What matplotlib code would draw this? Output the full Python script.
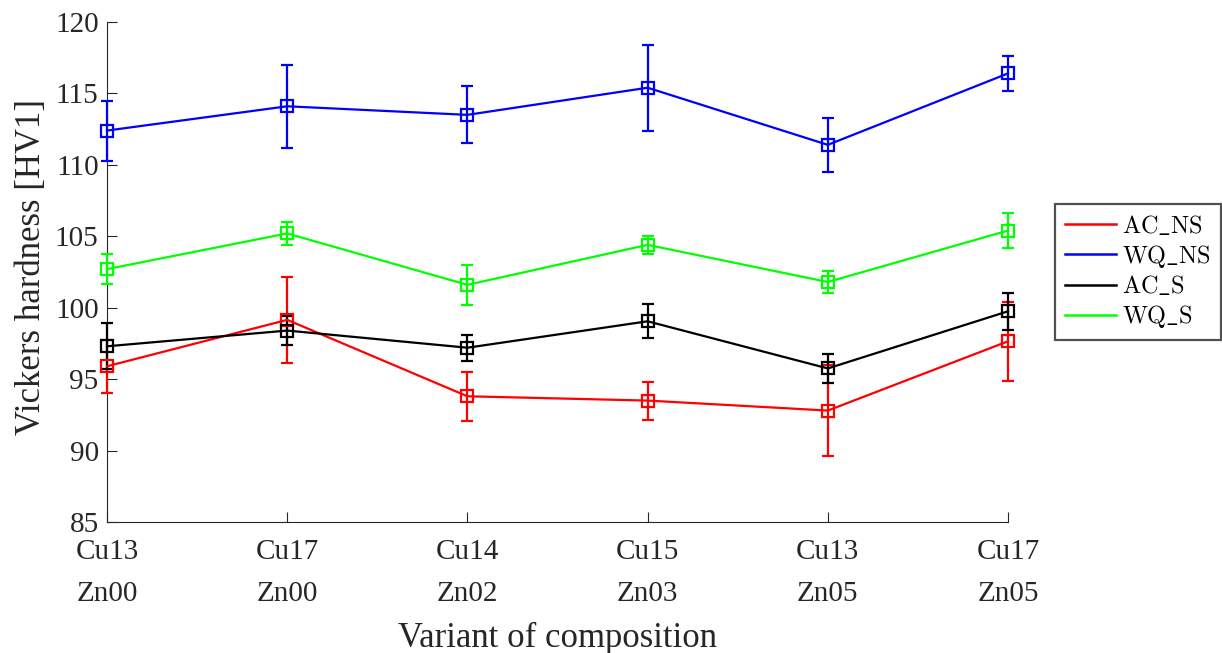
import numpy as np
import matplotlib
matplotlib.use('Agg')
import matplotlib.pyplot as plt
from matplotlib.lines import Line2D

# composition variants
labels = ['Cu13\nZn00', 'Cu17\nZn00', 'Cu14\nZn02', 'Cu15\nZn03', 'Cu13\nZn05', 'Cu17\nZn05']

ac_ns = [95.9, 99.15, 93.8, 93.5, 92.8, 97.65]
ac_ns_err = [1.85, 3.0, 1.7, 1.33, 3.2, 2.75]
wq_ns = [112.4, 114.1, 113.5, 115.4, 111.4, 116.4]
wq_ns_err = [2.1, 2.9, 2.0, 3.0, 1.9, 1.2]
ac_s = [97.3, 98.4, 97.2, 99.05, 95.75, 99.75]
ac_s_err = [1.6, 1.0, 0.9, 1.2, 1.0, 1.28]
wq_s = [102.7, 105.2, 101.6, 104.4, 101.8, 105.4]
wq_s_err = [1.05, 0.8, 1.4, 0.65, 0.8, 1.22]

names = ['AC_NS', 'WQ_NS', 'AC_S', 'WQ_S']
colors = ['#ff0000', '#0000ff', '#000000', '#00ff00']

plt.rcParams['font.family'] = ['Liberation Serif', 'DejaVu Serif']
plt.rcParams['mathtext.fontset'] = 'cm'

fig = plt.figure(figsize=(12.22, 6.53), dpi=100)
ax = fig.add_axes([107/1222., 1-522/653., (1008-107)/1222., (522-22)/653.])

x = np.arange(1, len(labels)+1)
series = [(ac_ns, ac_ns_err), (wq_ns, wq_ns_err), (ac_s, ac_s_err), (wq_s, wq_s_err)]
for (y, e), c in zip(series, colors):
    ax.errorbar(x, y, yerr=e, color=c, lw=1.6, elinewidth=1.6, capsize=4.5, capthick=1.6,
                marker='s', ms=8, mfc='none', mec=c, mew=1.6, clip_on=False, zorder=3)

ax.set_xlim(1, 6)
ax.set_ylim(85, 120)
ax.set_yticks(np.arange(85, 121, 5))
ax.set_xticks(x)
ax.set_xticklabels(labels, linespacing=1.8)
for s in ['top', 'right']:
    ax.spines[s].set_visible(False)
for s in ['left', 'bottom']:
    ax.spines[s].set_color('#262626')
    ax.spines[s].set_linewidth(0.8)
ax.tick_params(direction='in', length=7, width=0.8, colors='#262626', labelsize=21)
ax.tick_params(axis='y', pad=6)
ax.tick_params(axis='x', pad=12)
ax.set_ylabel('Vickers hardness [HV1]', fontsize=25, color='#262626')
ax.yaxis.set_label_coords(-0.066, 0.51)
ax.set_xlabel('Variant of composition', fontsize=25, color='#262626', labelpad=11)

handles = [Line2D([0], [0], color=c, lw=1.8) for c in colors]
leg_labels = [r'$\mathrm{' + n.replace('_', r'\_') + '}$' for n in names]
leg = fig.legend(handles, leg_labels, loc='center left', bbox_to_anchor=(1055/1222., 1-272/653.),
                 fontsize=17.5, frameon=True, fancybox=False, edgecolor='#262626',
                 handlelength=2.1, handletextpad=0.25, borderpad=0.4, labelspacing=0.2,
                 borderaxespad=0)
leg.get_frame().set_linewidth(1.6)

plt.savefig('out.png', dpi=100)
